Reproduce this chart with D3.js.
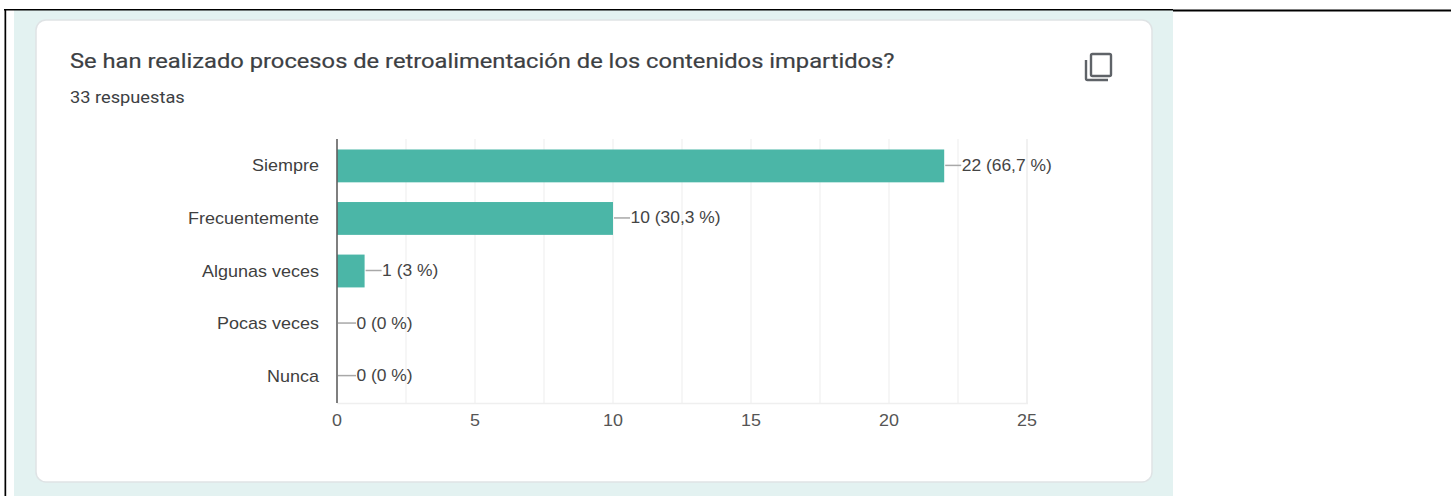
<!DOCTYPE html>
<html><head><meta charset="utf-8">
<script src="https://cdn.jsdelivr.net/npm/d3@7"></script>
<style>html,body{margin:0;padding:0;background:#fff;overflow:hidden}svg{display:block}</style>
</head><body><svg id="c" width="1451" height="496"></svg>
<script>
const categories = ["Siempre","Frecuentemente","Algunas veces","Pocas veces","Nunca"];
const counts = [22,10,1,0,0];
const valueLabels = ["22 (66,7 %)","10 (30,3 %)","1 (3 %)","0 (0 %)","0 (0 %)"];
const xTicks = [0,5,10,15,20,25];
const gridTicks = [2.5,5,7.5,10,12.5,15,17.5,20,22.5,25];
const titleText = "Se han realizado procesos de retroalimentación de los contenidos impartidos?";
const subtitleText = "33 respuestas";

const svg = d3.select("#c");
// frame
svg.append("rect").attr("x",14).attr("y",10).attr("width",1159).attr("height",486).attr("fill","#e3f2f1");
svg.append("rect").attr("x",4).attr("y",9).attr("width",1169).attr("height",1.5).attr("fill","#000");
svg.append("rect").attr("x",1173).attr("y",9.5).attr("width",278).attr("height",2).attr("fill","#000");
svg.append("rect").attr("x",4.5).attr("y",9).attr("width",1.7).attr("height",487).attr("fill","#000");
// card
svg.append("rect").attr("x",36).attr("y",20).attr("width",1116).attr("height",462).attr("rx",10)
  .attr("fill","#fff").attr("stroke","#dfe3e5").attr("stroke-width",1.5);

// horizontally stretched text, as in the reference screenshot
function stretched(sel, sx){
  return sel.attr("transform", function(){
    const px = +this.getAttribute("data-x"), py = +this.getAttribute("data-y");
    return `translate(${px},${py}) scale(${sx},1)`;
  });
}
const font = "'Liberation Sans', Arial, sans-serif";
stretched(svg.append("text").attr("data-x",70).attr("data-y",68).attr("font-family","Roboto, sans-serif").attr("font-size",21)
  .attr("fill","#3c4043").attr("stroke","#3c4043").attr("stroke-width",0.2).text(titleText), 1.13);
stretched(svg.append("text").attr("data-x",70).attr("data-y",103).attr("font-family","Roboto, sans-serif").attr("font-size",16)
  .attr("fill","#3c4043").text(subtitleText), 1.14);
// copy icon
const icon = svg.append("g").attr("fill","none").attr("stroke","#5f6368").attr("stroke-width",2.4);
icon.append("rect").attr("x",1091).attr("y",54).attr("width",20).attr("height",22).attr("rx",1.5);
icon.append("path").attr("d","M1086 60V78.5a1.5 1.5 0 0 0 1.500 1.500H1108");

const x = d3.scaleLinear().domain([0,25]).range([337,1027]);
const y = d3.scaleBand().domain(categories).range([139.5,402.5]).paddingInner(0.375).paddingOuter(0.19);

svg.append("g").selectAll("line").data(gridTicks).join("line")
  .attr("x1",d=>x(d)).attr("x2",d=>x(d)).attr("y1",139).attr("y2",403)
  .attr("stroke",d=>d===25?"#ececec":"#f3f3f3").attr("stroke-width",1.5);
svg.append("line").attr("x1",337).attr("x2",1028).attr("y1",403.5).attr("y2",403.5).attr("stroke","#efefef").attr("stroke-width",1.5);

svg.append("g").selectAll("rect").data(counts).join("rect")
  .attr("x",x(0)).attr("y",(d,i)=>y(categories[i])).attr("height",y.bandwidth())
  .attr("width",d=>x(d)-x(0)).attr("fill","#4bb6a7");
svg.append("line").attr("x1",337).attr("x2",337).attr("y1",139).attr("y2",403).attr("stroke","#5f5f5f").attr("stroke-width",1.6);

const cy = i => y(categories[i])+y.bandwidth()/2;
const labelGap = d => d === 0 ? 19.5 : 17.5;
svg.append("g").selectAll("line").data(counts).join("line")
  .attr("x1",d=>x(d)+1).attr("x2",d=>x(d)+labelGap(d)-0.5).attr("y1",(d,i)=>cy(i)-0.5).attr("y2",(d,i)=>cy(i)-0.5)
  .attr("stroke","#a8a8a8").attr("stroke-width",1.5);
svg.append("g").selectAll("text").data(counts).join("text")
  .attr("data-x",d=>x(d)+labelGap(d)).attr("data-y",(d,i)=>cy(i)+5).attr("font-family",font).attr("font-size",16)
  .attr("fill","#444").text((d,i)=>valueLabels[i]).call(stretched,1.09);
svg.append("g").selectAll("text").data(categories).join("text")
  .attr("data-x",319).attr("data-y",d=>y(d)+y.bandwidth()/2+5.5).attr("text-anchor","end")
  .attr("font-family",font).attr("font-size",16).attr("fill","#3f3f3f").text(d=>d).call(stretched,1.125);
svg.append("g").selectAll("text").data(xTicks).join("text")
  .attr("data-x",d=>x(d)).attr("data-y",425.5).attr("text-anchor","middle")
  .attr("font-family",font).attr("font-size",16).attr("fill","#555").text(d=>d).call(stretched,1.12);
</script></body></html>
